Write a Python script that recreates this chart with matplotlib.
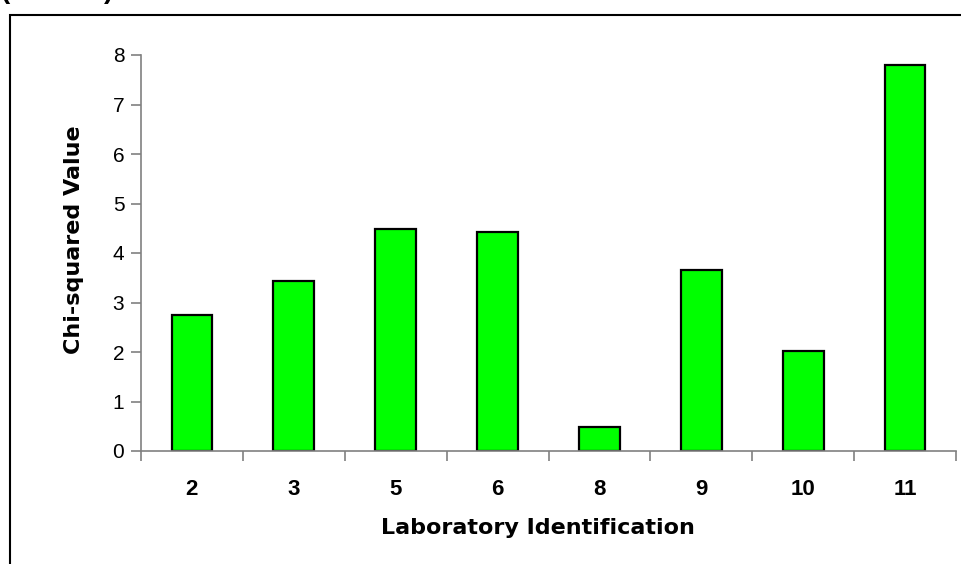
import numpy as np
import matplotlib
matplotlib.use("Agg")
import matplotlib.pyplot as plt
from matplotlib.patches import Rectangle

# Chi-squared value per laboratory
labs = ["2", "3", "5", "6", "8", "9", "10", "11"]
chi_sq = [2.75, 3.43, 4.48, 4.42, 0.48, 3.66, 2.03, 7.79]

plt.rcParams["font.family"] = ["Liberation Sans", "DejaVu Sans"]

fig = plt.figure(figsize=(9.62, 5.64), dpi=100)
W, H = 962.0, 564.0

# outer chart frame (only top and left edges visible, rest cut off)
fig.patches.append(Rectangle((10 / W, -0.1), 1.2, 1 - 14.5 / H + 0.1,
                             transform=fig.transFigure, fill=False,
                             edgecolor="black", linewidth=1.5))
# cut-off title fragment at the very top
fig.text(0.5 / W, 1 + 9 / H, "(", fontsize=20, fontweight="bold", va="center", ha="left")
fig.text(104 / W, 1 + 9 / H, ")", fontsize=20, fontweight="bold", va="center", ha="left")

ax = fig.add_axes([141 / W, 1 - 451 / H, (956 - 141) / W, (451 - 55) / H])
x = np.arange(len(labs))
ax.bar(x, chi_sq, width=0.4, color="#00ff00", edgecolor="black", linewidth=1.6)

ax.set_xlim(-0.5, len(labs) - 0.5)
ax.set_ylim(0, 8)
ax.set_yticks(range(0, 9))
ax.set_xticks(x)
ax.set_xticklabels(labs, fontweight="bold", fontsize=16)
ax.set_xticks(np.arange(-0.5, len(labs)), minor=True)
ax.tick_params(axis="x", which="major", length=0, pad=20)
ax.tick_params(axis="x", which="minor", length=7, direction="out", color="#808080", width=1.2)
ax.tick_params(axis="y", length=7, direction="out", color="#808080", width=1.2, labelsize=15, pad=5)

for s in ["top", "right"]:
    ax.spines[s].set_visible(False)
for s in ["left", "bottom"]:
    ax.spines[s].set_color("#808080")
    ax.spines[s].set_linewidth(1.2)

ax.set_xlabel("Laboratory Identification", fontweight="bold", fontsize=16, family="DejaVu Sans")
ax.set_ylabel("Chi-squared Value", fontweight="bold", fontsize=16, family="DejaVu Sans")
ax.xaxis.label.set_va("center")
ax.yaxis.label.set_va("center")
ax.xaxis.set_label_coords(0.4865, -0.194)
ax.yaxis.set_label_coords(-0.082, 0.533)

plt.savefig("out.png", dpi=100)
